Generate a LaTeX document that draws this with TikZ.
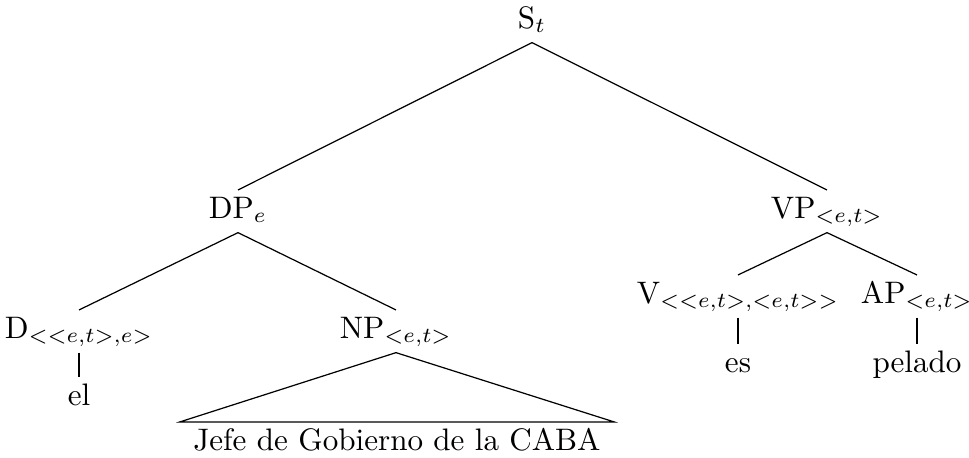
\documentclass[tikz,border=0pt]{standalone}
\begin{document}
\begin{tikzpicture}[x=0.328pt,y=-0.328pt,
  lab/.style={anchor=base,inner sep=0pt,text height=9pt,text depth=4.6pt,font=\fontsize{10.2}{12}\selectfont},
  edge/.style={draw=black,line width=0.4pt}]
\useasboundingbox (0,0) rectangle (969,457);
\node[lab] (S) at (532,28) {S$_t$};
\node[lab] (DP) at (238,218) {DP$_e$};
\node[lab] (VP) at (827,218) {VP$_{<e,t>}$};
\node[lab] (D) at (79,338) {D$_{<<e,t>,e>}$};
\node[lab] (NP) at (396,338) {NP$_{<e,t>}$};
\node[lab] (el) at (79,405) {el};
\node[lab] (V) at (738,303) {V$_{<<e,t>,<e,t>>}$};
\node[lab] (AP) at (917,303) {AP$_{<e,t>}$};
\node[lab] (es) at (738,372) {es};
\node[lab] (pelado) at (917,372) {pelado};
\node[lab,inner xsep=4.3pt] (jefe) at (397,450) {Jefe de Gobierno de la CABA};
\draw[edge] (S.south) -- (DP.north);
\draw[edge] (S.south) -- (VP.north);
\draw[edge] (DP.south) -- (D.north);
\draw[edge] (DP.south) -- (NP.north);
\draw[edge] (D.south) -- (el.north);
\draw[edge] (NP.south) -- (jefe.north west) -- (jefe.north east) -- cycle;
\draw[edge] (VP.south) -- (V.north);
\draw[edge] (VP.south) -- (AP.north);
\draw[edge] (V.south) -- (es.north);
\draw[edge] (AP.south) -- (pelado.north);
\end{tikzpicture}
\end{document}
